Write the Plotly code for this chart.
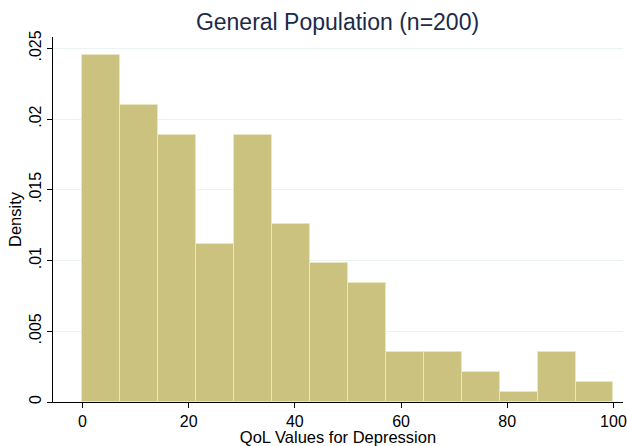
import plotly.graph_objects as go

# Data: density per bin (14 equal-width bins over 0-100)
bin_start = 0.0
bin_width = 100 / 14
densities = [0.0245, 0.0210, 0.0189, 0.0112, 0.0189, 0.0126, 0.0098,
             0.0084, 0.0035, 0.0035, 0.0021, 0.0007, 0.0035, 0.0014]
x_ticks = [0, 20, 40, 60, 80, 100]
y_ticks = [0, 0.005, 0.01, 0.015, 0.02, 0.025]
y_tick_labels = ["0", ".005", ".01", ".015", ".02", ".025"]

centers = [bin_start + bin_width * (i + 0.5) for i in range(len(densities))]

fig = go.Figure()
fig.add_trace(go.Bar(
    x=centers, y=densities, width=[bin_width] * len(densities),
    marker=dict(color="#CAC27E", line=dict(color="#E9E6C4", width=1)),
    hoverinfo="x+y",
))

W, H = 627, 446
font_family = "Liberation Sans, Arial, sans-serif"
fig.update_layout(
    width=W, height=H,
    margin=dict(l=53, r=4, t=37, b=44, autoexpand=False),
    paper_bgcolor="white", plot_bgcolor="white",
    showlegend=False, bargap=0,
    font=dict(family=font_family, color="black"),
    title=dict(text="General Population (n=200)", x=337.5 / W, xanchor="center",
               y=1 - 22 / H, yanchor="middle", yref="container",
               automargin=False,
               font=dict(size=23, color="#1B2A4A", family=font_family)),
    xaxis=dict(range=[-5.54, 101.8], tickvals=x_ticks, ticks="outside",
               ticklen=5, tickcolor="black", showline=True, linecolor="black",
               linewidth=1, showgrid=False, zeroline=False, automargin=False,
               tickfont=dict(size=16),
               title=dict(text="QoL Values for Depression", standoff=0,
                          font=dict(size=16.5))),
    yaxis=dict(range=[0, 0.0258], tickvals=y_ticks, ticktext=y_tick_labels,
               tickangle=-90, ticks="outside", ticklen=5, tickcolor="black",
               showline=True, linecolor="black", linewidth=1,
               showgrid=True, gridcolor="#EAF2F3", gridwidth=1,
               zeroline=False, automargin=False, tickfont=dict(size=16),
               title=dict(text="Density", standoff=0, font=dict(size=16.5))),
)

fig.write_html(
    "out.html",
    config={"displayModeBar": False},
    post_script="document.body.style.margin='0';document.body.style.overflow='hidden';",
)
